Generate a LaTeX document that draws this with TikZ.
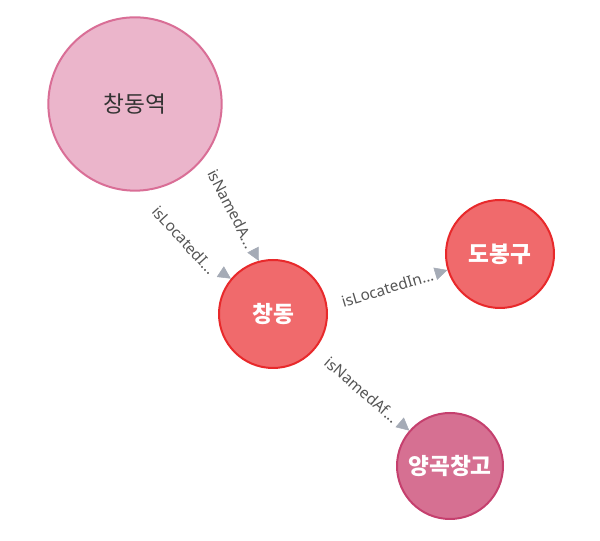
\documentclass[tikz,border=0pt]{standalone}
\usepackage{fontspec}
\setmainfont{Noto Sans}
\newfontfamily\krfont{Noto Sans CJK KR}
\usepackage{tikz}
\usetikzlibrary{arrows.meta}
\definecolor{stationfill}{HTML}{EBB5CB}
\definecolor{stationline}{HTML}{D96E96}
\definecolor{dongfill}{HTML}{F06A6C}
\definecolor{dongline}{HTML}{E8292B}
\definecolor{placefill}{HTML}{D67092}
\definecolor{placeline}{HTML}{C5406E}
\definecolor{arrowgrey}{HTML}{A5ABB6}
\definecolor{labelgrey}{HTML}{555555}
\definecolor{textdark}{HTML}{333333}
\newcommand{\defaultbubblesize}{81pt}
\newcommand{\bubblesize}{\defaultbubblesize}
\tikzstyle{bubble}=[draw, circle, inner sep=0, line width=1.5pt, minimum size=\bubblesize,
                    text=white, font=\krfont\fontsize{17}{17}\selectfont\bfseries]
\tikzstyle{stationbubble}=[bubble, fill=stationfill, draw=stationline, minimum size=130pt,
                           text=textdark, font=\krfont\fontsize{17}{17}\selectfont]
\tikzstyle{dongbubble}=[bubble, fill=dongfill, draw=dongline]
\tikzstyle{placebubble}=[bubble, fill=placefill, draw=placeline]
% The relation shafts are not shown, only their tips and labels.
\tikzstyle{rel}=[draw=white, -{Triangle[length=9.5pt, width=9.5pt, color=arrowgrey]}]
\tikzstyle{rellabel}=[sloped, midway, inner sep=1pt, text=labelgrey, font=\fontsize{11.5}{11.5}\selectfont]

\begin{document}
\begin{tikzpicture}[x=0.75pt, y=0.75pt]
        \useasboundingbox (0, 0) rectangle (600, 541);
        \node[stationbubble] (CDst) at (135, 437) {창동역};
        \node[dongbubble] (CD) at (273, 227) {창동};
        \node[dongbubble] (DBG) at (500, 287) {도봉구};
        \node[placebubble, minimum size=79.5pt] (YGCG) at (450, 75) {양곡창고};
        \draw[rel] (CDst.-80) to[bend right=14] node[rellabel] {isLocatedI...} (CD.140);
        \draw[rel] (CDst.-37) to node[rellabel] {isNamedA...} (CD.105);
        \draw[rel] (CD.8) to node[rellabel] {isLocatedIn...} (DBG.197);
        \draw[rel] (CD.-40) to node[rellabel] {isNamedAf...} (YGCG.139);
    \end{tikzpicture}
\end{document}
